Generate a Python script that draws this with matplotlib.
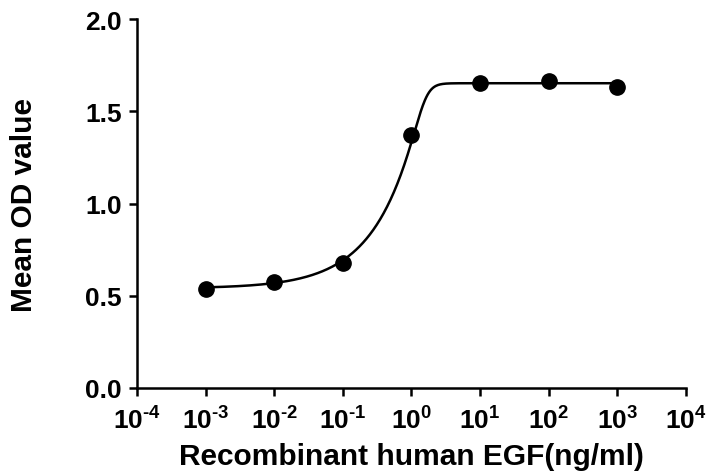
import numpy as np
import matplotlib
matplotlib.use("Agg")
import matplotlib.pyplot as plt

# data
conc = [1e-3, 1e-2, 1e-1, 1e0, 1e1, 1e2, 1e3]
od_mean = [0.537, 0.575, 0.678, 1.371, 1.651, 1.662, 1.630]

# 5-parameter logistic fit (bottom, top, log EC50, hill slope, asymmetry)
fit_bottom = 0.54
fit_top = 1.652
fit_logc = 0.2
fit_hill = 6.0
fit_asym = 0.12

xtick_vals = [1e-4, 1e-3, 1e-2, 1e-1, 1e0, 1e1, 1e2, 1e3, 1e4]
xtick_labels = [r"$10^{\text{-}4}$", r"$10^{\text{-}3}$", r"$10^{\text{-}2}$", r"$10^{\text{-}1}$",
                r"$10^{0}$", r"$10^{1}$", r"$10^{2}$", r"$10^{3}$", r"$10^{4}$"]
ytick_vals = [0.0, 0.5, 1.0, 1.5, 2.0]
ytick_labels = ["0.0", "0.5", "1.0", "1.5", "2.0"]

plt.rcParams["font.family"] = ["Liberation Sans", "DejaVu Sans"]
plt.rcParams["font.weight"] = "bold"
plt.rcParams["mathtext.fontset"] = "custom"
plt.rcParams["mathtext.rm"] = "Liberation Sans:bold"
plt.rcParams["mathtext.it"] = "Liberation Sans:bold"
plt.rcParams["mathtext.bf"] = "Liberation Sans:bold"
plt.rcParams["mathtext.default"] = "rm"

fig = plt.figure(figsize=(7.11, 4.77), dpi=100)
ax = fig.add_axes([0.1927, 0.1845, 0.772, 0.7735])

# fitted curve
logx = np.linspace(np.log10(conc[0]), np.log10(conc[-1]), 600)
g = 10 ** (fit_hill * (fit_logc - logx))
fit_y = fit_bottom + (fit_top - fit_bottom) / (1 + g) ** fit_asym
ax.plot(10 ** logx, fit_y, color="black", lw=1.8, zorder=2)

ax.plot(conc, od_mean, "o", color="black", markersize=11, zorder=3)

ax.set_xscale("log")
ax.set_xlim(1e-4, 1e4)
ax.set_ylim(0, 2.0)
ax.set_xticks(xtick_vals)
ax.set_xticklabels(xtick_labels)
ax.xaxis.set_minor_locator(matplotlib.ticker.NullLocator())
ax.set_yticks(ytick_vals)
ax.set_yticklabels(ytick_labels)

for side in ["top", "right"]:
    ax.spines[side].set_visible(False)
for side in ["left", "bottom"]:
    ax.spines[side].set_linewidth(1.8)
ax.tick_params(axis="both", direction="out", length=6, width=1.8,
               labelsize=19, pad=5)
ax.tick_params(axis="x", pad=7)

ax.set_xlabel("Recombinant human EGF(ng/ml)", fontsize=21.5, fontweight="bold", labelpad=6)
ax.set_ylabel("Mean OD value", fontsize=21.5, fontweight="bold", labelpad=34)

fig.savefig("out.png", dpi=100)
